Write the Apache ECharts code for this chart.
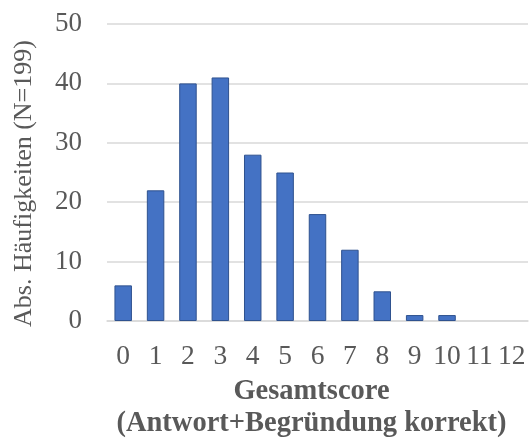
<!DOCTYPE html>
<html>
<head>
<meta charset="utf-8">
<script src="https://cdn.jsdelivr.net/npm/echarts@6/dist/echarts.min.js"></script>
<style>
  html, body { margin: 0; padding: 0; background: #fff; }
  #chart { width: 531px; height: 438px; }
</style>
</head>
<body>
<div id="chart"></div>
<script>
var scores = ['0', '1', '2', '3', '4', '5', '6', '7', '8', '9', '10', '11', '12'];
var counts = [6, 22, 40, 41, 28, 25, 18, 12, 5, 1, 1, 0, 0];
var yTitle = 'Abs. Häufigkeiten (N=199)';
var xTitle = 'Gesamtscore\n(Antwort+Begründung korrekt)';

var myChart = echarts.init(document.getElementById('chart'));
var font = '"Liberation Serif", "Times New Roman", serif';

// leere Balken (0) ohne Rahmen zeichnen
var barData = counts.map(function (v) {
  return { value: v, itemStyle: { borderWidth: v ? 1 : 0 } };
});

var option = {
  animation: false,
  grid: {
    left: 107,
    right: 3,
    top: 24,
    bottom: 117,
    outerBoundsMode: 'none'
  },
  xAxis: {
    type: 'category',
    data: scores,
    axisTick: { show: false },
    axisLine: { lineStyle: { color: '#d9d9d9', width: 1.5 } },
    axisLabel: {
      color: '#595959',
      fontFamily: font,
      fontSize: 27.5,
      margin: 22,
      interval: 0
    },
    name: xTitle,
    nameLocation: 'middle',
    nameGap: 54,
    nameTextStyle: {
      color: '#595959',
      fontFamily: font,
      fontSize: 28.5,
      fontWeight: 'bold',
      lineHeight: 32,
      verticalAlign: 'top',
      padding: [0, 12, 0, 0]
    }
  },
  yAxis: {
    type: 'value',
    min: 0,
    max: 50,
    interval: 10,
    axisLine: { show: false },
    axisTick: { show: false },
    splitLine: { lineStyle: { color: '#d9d9d9', width: 1.5 } },
    axisLabel: {
      color: '#595959',
      fontFamily: font,
      fontSize: 27,
      margin: 25
    },
    name: yTitle,
    nameLocation: 'middle',
    nameGap: 70,
    nameTextStyle: {
      color: '#595959',
      fontFamily: font,
      fontSize: 26,
      padding: [0, 22, 0, 0]
    }
  },
  series: [
    {
      name: 'Häufigkeit',
      type: 'bar',
      data: barData,
      barWidth: '54%',
      itemStyle: {
        color: '#4472c4',
        borderColor: '#2f528f',
        borderWidth: 1
      }
    }
  ]
};

myChart.setOption(option);
</script>
</body>
</html>
